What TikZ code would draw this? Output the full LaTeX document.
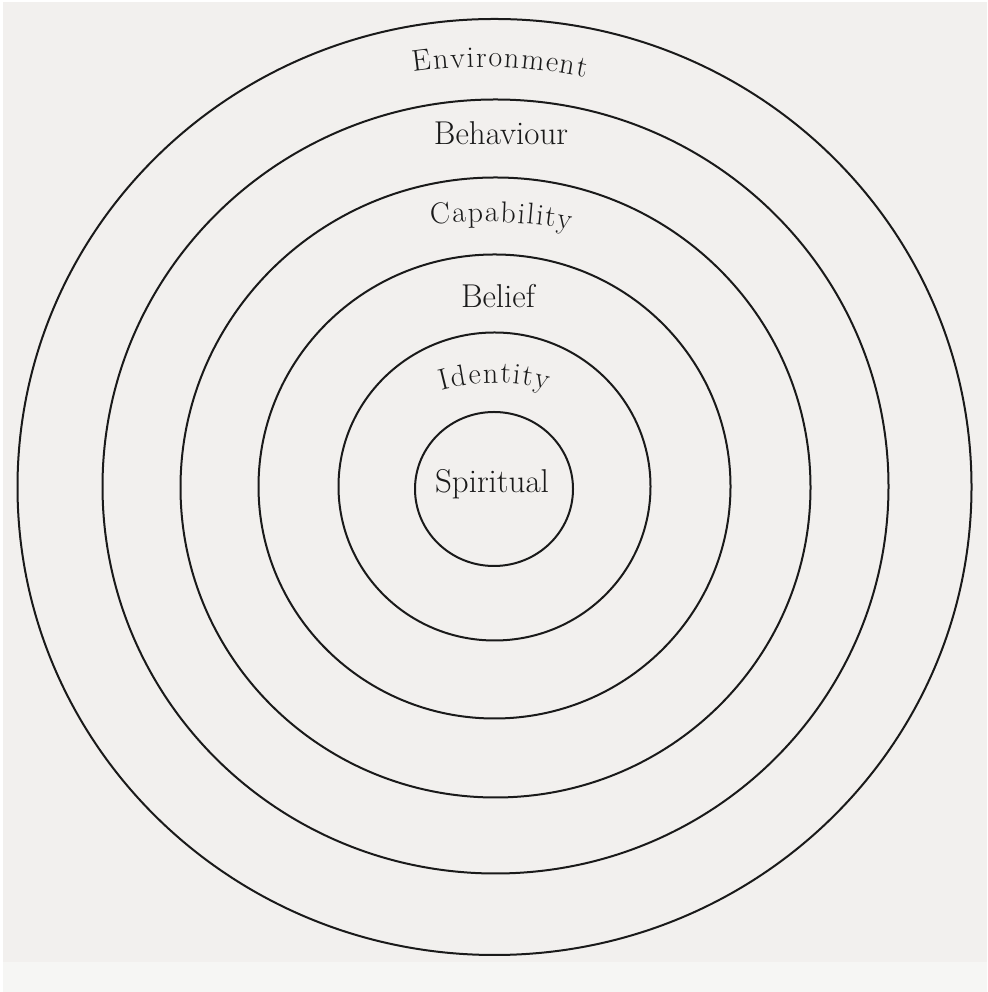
\documentclass[tikz,border=0pt]{standalone}
\usetikzlibrary{decorations.text}
\definecolor{paper}{HTML}{F2F0EE}
\definecolor{paperlow}{HTML}{F6F6F4}
\definecolor{ink}{HTML}{1A1A1A}
\newcommand\ringfont{\fontsize{33}{38}\selectfont}
\newcommand\arcfont{\fontsize{30}{36}\selectfont}
\tikzset{
  ring/.style={draw=ink, line width=2pt},
  ringlabel/.style={text=ink, font=\ringfont, anchor=base, inner sep=0pt},
  arclabel/.style={decorate, decoration={text effects along path, text={#1}, text align=center,
     text effects/.cd, text along path, characters={text=ink, font=\arcfont, inner xsep=0.8pt, inner ysep=0pt}}}
}
\begin{document}
\begin{tikzpicture}[x=1pt,y=1pt]
\useasboundingbox (0,0) rectangle (987,992);
\fill[white] (0,0) rectangle (987,992);
\fill[paper] (3,0) rectangle (987,990);
\fill[paperlow] (3,0) rectangle (987,30);
\coordinate (c) at (494.5,505);
% rings
\draw[ring] (c) ellipse [x radius=477pt, y radius=468pt];
\draw[ring] (495.5,505.5) ellipse [x radius=393pt, y radius=387pt];
\draw[ring] (495.5,504.5) ellipse [x radius=315pt, y radius=310pt];
\draw[ring] (494.5,505.5) ellipse [x radius=236pt, y radius=232pt];
\draw[ring] (494.5,505.5) ellipse [x radius=156pt, y radius=154pt];
\draw[ring] (494,503) ellipse [x radius=79pt, y radius=77pt];
% labels
\path[arclabel=Environment] (483.3,445) ++(108:480pt) arc[start angle=108, end angle=68, radius=480pt];
\node[ringlabel] (behaviour) at (501,847) {Behaviour};
\path[arclabel=Capability] (483.6,270) ++(108:500pt) arc[start angle=108, end angle=68, radius=500pt];
\node[ringlabel] (belief) at (498,684) {Belief};
\path[arclabel=Identity] (494.5,409) ++(120:200pt) arc[start angle=120, end angle=60, radius=200pt];
\node[ringlabel] (spiritual) at (492,499) {Spiritual};
\end{tikzpicture}
\end{document}
